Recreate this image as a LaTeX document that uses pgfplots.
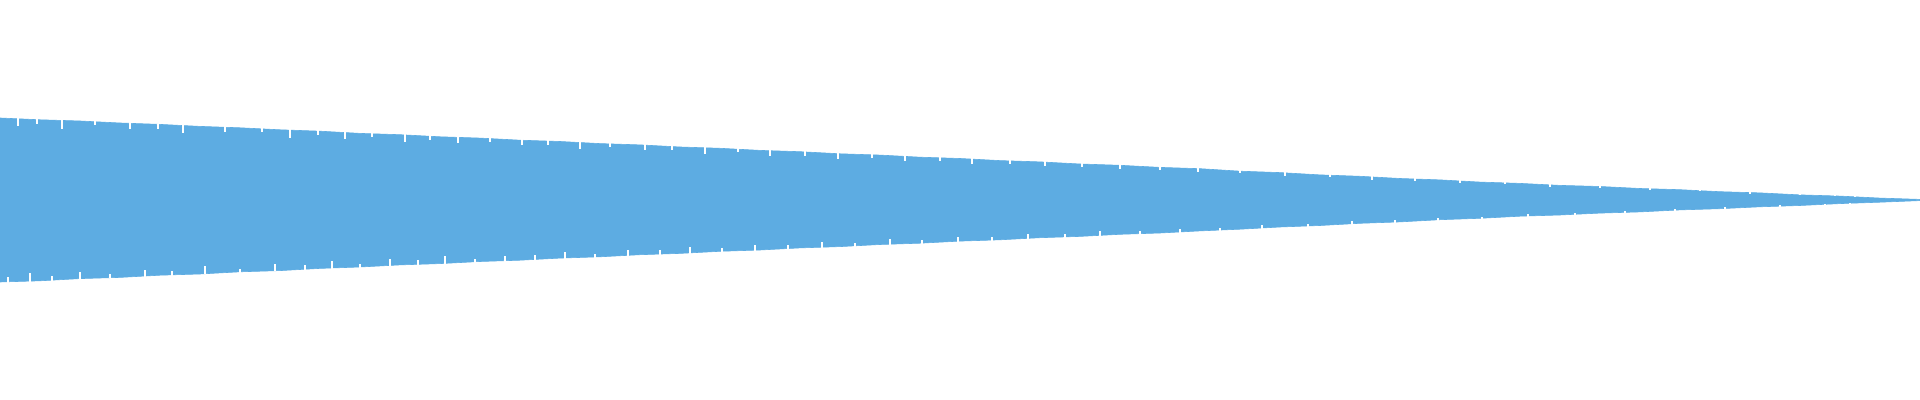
\documentclass[border=0pt]{standalone}
\usepackage{pgfplots}
\pgfplotsset{compat=1.18}
\definecolor{wave}{HTML}{5DACE2}

\begin{document}
\begin{tikzpicture}
\begin{axis}[
    hide axis,
    scale only axis,
    width=960pt,
    height=200pt,
    xmin=0, xmax=1920,
    ymin=-200, ymax=200,
    notch/.style={draw=none, mark=none, forget plot,
        error bars/y explicit, error bars/error mark=none,
        error bars/error bar style={draw=white, line width=0.55pt}},
]
% envelope: upper edge left to right, lower edge right to left
\addplot[fill=wave, draw=wave, line width=0.3pt] coordinates {
    (0,82) (40,80.2) (80,79.0) (120,77.0) (160,75.6) (200,73.6) (240,72.2)
    (280,70.2) (320,68.8) (360,66.6) (400,65.3) (440,63.2) (480,61.9)
    (520,59.8) (560,58.5) (600,56.4) (640,55.1) (680,53.0) (720,51.7)
    (760,49.6) (800,48.3) (840,46.2) (880,44.9) (920,42.8) (960,41.5)
    (1000,39.4) (1040,38.1) (1080,36.0) (1120,34.7) (1160,32.6) (1200,31.3)
    (1240,28.8) (1280,27.4) (1320,25.1) (1360,23.7) (1400,21.5) (1440,20.1)
    (1480,17.9) (1520,16.6) (1560,14.6) (1600,13.5) (1640,11.5) (1680,10.3)
    (1720,8.3) (1760,7.1) (1800,5.1) (1840,3.9) (1880,1.9) (1920,0.6)
    (1920,-0.6) (1880,-2.2) (1840,-3.6) (1800,-5.5) (1760,-6.8) (1720,-8.7)
    (1680,-9.9) (1640,-11.9) (1600,-13.1) (1560,-15.0) (1520,-16.2)
    (1480,-18.3) (1440,-19.7) (1400,-21.9) (1360,-23.3) (1320,-25.5)
    (1280,-27.0) (1240,-29.2) (1200,-30.9) (1160,-33.0) (1120,-34.3)
    (1080,-36.4) (1040,-37.7) (1000,-39.8) (960,-41.1) (920,-43.2)
    (880,-44.5) (840,-46.6) (800,-47.9) (760,-50.0) (720,-51.3) (680,-53.4)
    (640,-54.7) (600,-56.8) (560,-58.1) (520,-60.2) (480,-61.5) (440,-63.6)
    (400,-64.9) (360,-67.0) (320,-68.4) (280,-70.6) (240,-71.8) (200,-74.0)
    (160,-75.2) (120,-77.4) (80,-78.6) (40,-80.8) (0,-82)
};
% notches along the upper edge
\addplot[notch, error bars/y dir=minus] coordinates {
    (18,82.2) +- (0,8) (37,81.4) +- (0,5) (62,80.4) +- (0,9)
    (95,79.0) +- (0,4) (130,77.5) +- (0,7) (158,76.3) +- (0,5)
    (183,75.2) +- (0,8) (225,73.5) +- (0,6) (262,71.9) +- (0,4)
    (290,70.7) +- (0,9) (318,69.5) +- (0,5) (345,68.4) +- (0,7)
    (372,67.2) +- (0,4) (405,65.8) +- (0,8) (430,64.8) +- (0,5)
    (458,63.6) +- (0,7) (490,62.2) +- (0,4) (522,60.9) +- (0,6)
    (548,59.8) +- (0,5) (580,58.4) +- (0,7) (610,57.1) +- (0,4)
    (645,55.7) +- (0,6) (672,54.5) +- (0,5) (705,53.1) +- (0,7)
    (738,51.7) +- (0,4) (770,50.4) +- (0,6) (805,48.9) +- (0,5)
    (838,47.5) +- (0,7) (872,46.0) +- (0,4) (905,44.6) +- (0,6)
    (940,43.1) +- (0,4) (972,41.8) +- (0,6) (1010,40.2) +- (0,4)
    (1045,38.7) +- (0,5) (1082,37.1) +- (0,4) (1120,35.5) +- (0,5)
    (1160,33.8) +- (0,3.5) (1198,32.2) +- (0,4.5) (1240,30.0) +- (0,3.5)
    (1285,27.8) +- (0,4) (1330,25.8) +- (0,3) (1372,23.9) +- (0,3.5)
    (1415,22.0) +- (0,3) (1460,20.1) +- (0,3.5) (1505,18.2) +- (0,2.5)
    (1550,16.4) +- (0,3) (1600,14.4) +- (0,2.5) (1650,12.4) +- (0,2.5)
    (1700,10.5) +- (0,2) (1750,8.4) +- (0,2) (1800,6.4) +- (0,1.8)
    (1835,5.0) +- (0,1.5) (1855,4.2) +- (0,1.3)
};
% notches along the lower edge
\addplot[notch, error bars/y dir=plus] coordinates {
    (8,-82.7) +- (0,6) (30,-81.7) +- (0,9) (52,-80.8) +- (0,5)
    (80,-79.6) +- (0,8) (110,-78.3) +- (0,4) (145,-76.9) +- (0,7)
    (172,-75.7) +- (0,5) (205,-74.3) +- (0,8) (240,-72.8) +- (0,4)
    (275,-71.3) +- (0,7) (305,-70.1) +- (0,5) (332,-68.9) +- (0,8)
    (360,-67.7) +- (0,4) (390,-66.5) +- (0,7) (418,-65.3) +- (0,5)
    (445,-64.1) +- (0,8) (475,-62.9) +- (0,4) (505,-61.6) +- (0,6)
    (535,-60.3) +- (0,5) (565,-59.0) +- (0,7) (595,-57.8) +- (0,4)
    (628,-56.4) +- (0,6) (660,-55.0) +- (0,5) (690,-53.7) +- (0,7)
    (722,-52.4) +- (0,4) (755,-51.0) +- (0,6) (788,-49.6) +- (0,5)
    (822,-48.1) +- (0,6) (855,-46.7) +- (0,4) (890,-45.3) +- (0,6)
    (922,-43.9) +- (0,4) (958,-42.4) +- (0,5) (992,-40.9) +- (0,4)
    (1028,-39.4) +- (0,5) (1065,-37.8) +- (0,3.5) (1100,-36.4) +- (0,5)
    (1140,-34.7) +- (0,3.5) (1180,-33.0) +- (0,4) (1220,-31.3) +- (0,3.5)
    (1262,-29.0) +- (0,4) (1308,-26.8) +- (0,3) (1352,-24.8) +- (0,3.5)
    (1395,-22.9) +- (0,3) (1438,-21.1) +- (0,3) (1482,-19.1) +- (0,2.5)
    (1528,-17.3) +- (0,3) (1575,-15.4) +- (0,2.5) (1625,-13.4) +- (0,2.5)
    (1675,-11.5) +- (0,2) (1725,-9.4) +- (0,2) (1780,-7.1) +- (0,1.8)
    (1825,-5.4) +- (0,1.5) (1850,-4.4) +- (0,1.3)
};
\path (rel axis cs:0,0) rectangle (rel axis cs:1,1);
\end{axis}
\end{tikzpicture}
\end{document}
